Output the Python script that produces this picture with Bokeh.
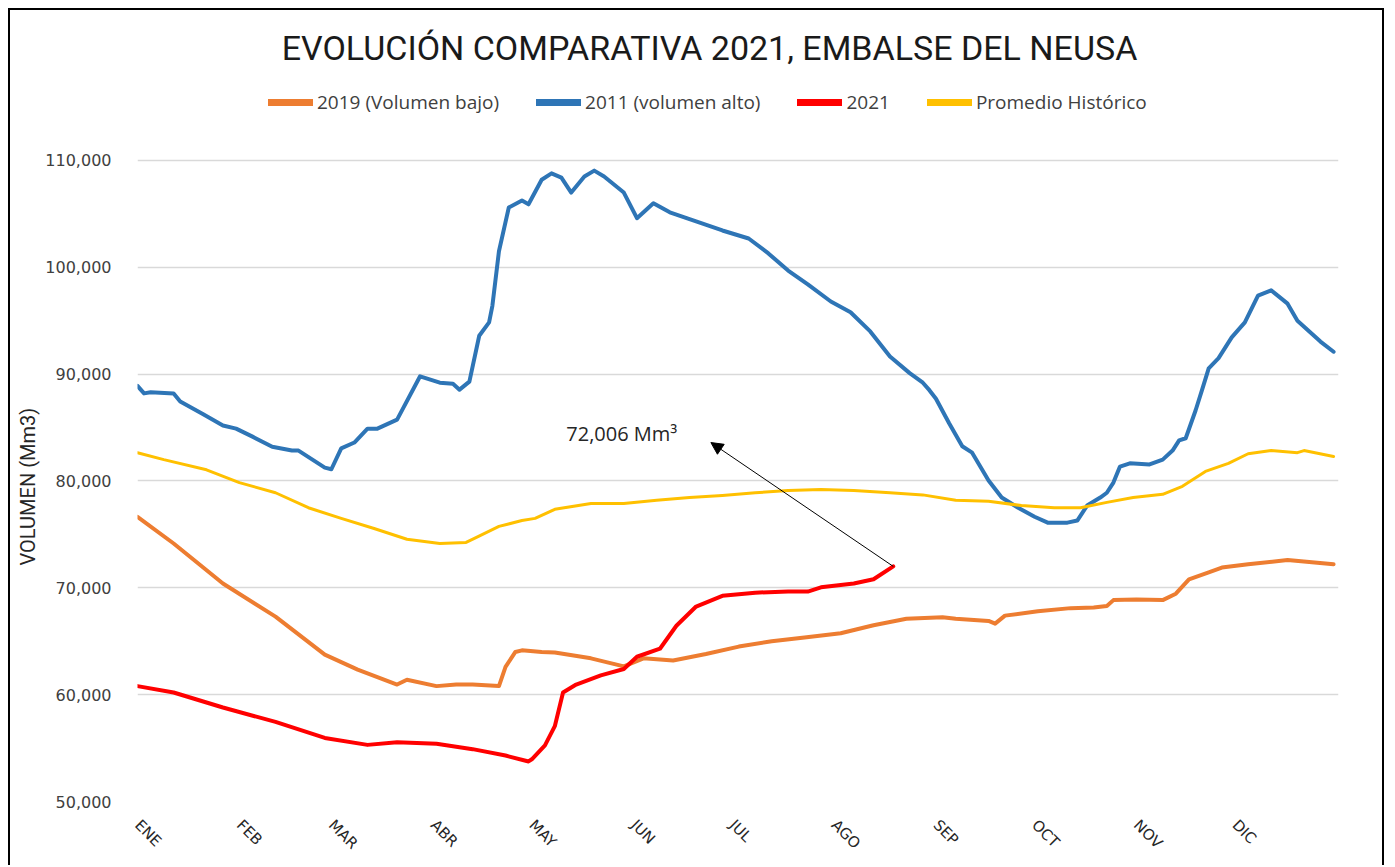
import math
from bokeh.plotting import figure
from bokeh.models import (Legend, LegendItem, Label, Arrow, NormalHead, Title,
                          FixedTicker, NumeralTickFormatter, Range1d)
from bokeh.embed import file_html
from bokeh.resources import INLINE

# ---------------- data (day of year, volume in Mm3) ----------------
month_labels = ["ENE", "FEB", "MAR", "ABR", "MAY", "JUN", "JUL", "AGO", "SEP", "OCT", "NOV", "DIC"]
month_start_days = [1, 32, 60, 91, 121, 152, 182, 213, 244, 274, 305, 335]

days_2011 = [1, 3, 5, 12, 14, 21, 27, 31, 36, 42, 48, 50, 58, 60, 63, 67, 71, 74, 80, 87,
             93, 97, 99, 102, 105, 108, 109, 111, 114, 118, 120, 124, 127, 130, 133, 137,
             140, 143, 149, 153, 158, 163, 171, 179, 187, 193, 199, 205, 212, 218, 224,
             230, 236, 240, 242, 244, 248, 252, 255, 260, 264, 269, 274, 278, 284, 287,
             290, 294, 296, 298, 300, 303, 309, 313, 316, 318, 320, 323, 325, 327, 330,
             334, 338, 342, 346, 348, 351, 354, 361, 365]
vol_2011 = [88900, 88200, 88300, 88200, 87450, 86250, 85200, 84900, 84150, 83200, 82850,
            82850, 81250, 81100, 83050, 83600, 84900, 84900, 85750, 89800, 89200, 89100,
            88550, 89300, 93600, 94850, 96400, 101500, 105600, 106250, 105900, 108200,
            108800, 108400, 107000, 108500, 109050, 108500, 107000, 104600, 106000, 105150,
            104300, 103450, 102700, 101300, 99700, 98400, 96800, 95800, 94000, 91650,
            90100, 89200, 88500, 87700, 85400, 83250, 82650, 80050, 78450, 77500, 76650,
            76100, 76100, 76300, 77700, 78450, 78900, 79850, 81350, 81650, 81550, 82000,
            82850, 83800, 84000, 86600, 88550, 90550, 91500, 93450, 94850, 97350, 97850,
            97350, 96600, 95000, 93050, 92100]

days_hist = [1, 9, 22, 32, 43, 53, 63, 73, 83, 93, 101, 104, 111, 118, 122, 128, 139, 149,
             159, 169, 179, 189, 199, 209, 219, 230, 240, 250, 260, 270, 280, 288, 296,
             304, 313, 319, 326, 333, 339, 346, 354, 356, 365]
vol_hist = [82650, 82000, 81050, 79850, 78900, 77500, 76500, 75550, 74550, 74150, 74250,
            74700, 75750, 76300, 76500, 77350, 77900, 77900, 78200, 78450, 78650, 78900,
            79100, 79200, 79100, 78900, 78700, 78200, 78100, 77700, 77500, 77500, 78000,
            78450, 78750, 79500, 80900, 81650, 82550, 82850, 82650, 82850, 82300]

days_2019 = [1, 12, 27, 43, 58, 68, 80, 83, 92, 98, 103, 111, 113, 116, 118, 124, 128, 139,
             149, 155, 164, 174, 184, 194, 204, 215, 225, 235, 246, 250, 260, 262, 265,
             275, 285, 292, 296, 298, 305, 313, 317, 321, 327, 331, 339, 351, 365]
vol_2019 = [76650, 74150, 70400, 67300, 63750, 62350, 60950, 61400, 60800, 60950, 60950,
            60800, 62600, 64000, 64150, 64000, 63950, 63400, 62650, 63400, 63200, 63800,
            64500, 65000, 65350, 65750, 66500, 67100, 67250, 67100, 66900, 66650, 67400,
            67800, 68100, 68150, 68300, 68850, 68900, 68850, 69450, 70800, 71450, 71900,
            72200, 72600, 72200]

days_2021 = [1, 12, 27, 43, 58, 71, 80, 92, 103, 113, 120, 121, 125, 128, 130.5, 134.5,
             142, 149, 153, 160, 165, 171, 179, 189, 199, 205, 209, 219, 225, 231]
vol_2021 = [60800, 60200, 58800, 57450, 55950, 55300, 55550, 55400, 54900, 54300, 53750,
            53950, 55250, 57050, 60200, 60950, 61800, 62400, 63550, 64300, 66450, 68250,
            69250, 69550, 69650, 69650, 70050, 70400, 70800, 72006]

series_names = ["2019 (Volumen bajo)", "2011 (volumen alto)", "2021", "Promedio Histórico"]
series_colors = ["#ED7D31", "#2E75B6", "#FF0000", "#FFC000"]

annot_text = "72,006 Mm³"
annot_text_pos = (131.5, 84450)
annot_arrow_head = (175.5, 83600)

y_ticks = [50000, 60000, 70000, 80000, 90000, 100000, 110000]

# ---------------- figure ----------------
# frame extends above the top gridline so that title and legend sit inside it
W, H = 1376, 857
MB_L, MB_R, MB_T, MB_B = 123, 48, 4, 66
frame_w = W - MB_L - MB_R
frame_h = H - MB_T - MB_B
p = figure(width=W, height=H, output_backend="svg", toolbar_location=None,
           x_range=Range1d(1, 366.5), y_range=Range1d(50000, 123666),
           min_border_left=MB_L, min_border_right=MB_R, min_border_top=MB_T,
           min_border_bottom=MB_B, background_fill_color="white",
           border_fill_color="white")
p.styles = {"margin": "8px 0 0 8px", "border-top": "2px solid black",
            "border-left": "2px solid black", "border-right": "2px solid black"}
p.outline_line_color = None
p.xgrid.grid_line_color = None
p.ygrid.grid_line_color = "#d9d9d9"
p.ygrid.grid_line_width = 1.5
p.ygrid.ticker = FixedTicker(ticks=y_ticks)

p.yaxis.ticker = FixedTicker(ticks=y_ticks)
p.yaxis.formatter = NumeralTickFormatter(format="0,0")
p.yaxis.axis_line_color = None
p.yaxis.major_tick_line_color = None
p.yaxis.minor_tick_line_color = None
p.yaxis.major_label_text_font = "DejaVu Sans"
p.yaxis.major_label_text_font_size = "16px"
p.yaxis.major_label_text_color = "#404040"
p.yaxis.major_label_standoff = 20
p.add_layout(Title(text="VOLUMEN (Mm3)", align="left", offset=236,
                   text_font="Roboto", text_font_size="20px", text_font_style="normal",
                   text_color="#262626", standoff=6), "left")

p.xaxis.ticker = FixedTicker(ticks=month_start_days)
p.xaxis.major_label_overrides = {d: m for d, m in zip(month_start_days, month_labels)}
p.xaxis.major_label_orientation = -math.pi / 4
p.xaxis.axis_line_color = None
p.xaxis.major_tick_line_color = None
p.xaxis.minor_tick_line_color = None
p.xaxis.major_label_text_font = "DejaVu Sans"
p.xaxis.major_label_text_font_size = "15px"
p.xaxis.major_label_text_color = "#262626"
p.xaxis.major_label_standoff = 15

r19 = p.line(days_2019, vol_2019, line_color=series_colors[0], line_width=4, line_join="round", line_cap="round")
r11 = p.line(days_2011, vol_2011, line_color=series_colors[1], line_width=4, line_join="round", line_cap="round")
r21 = p.line(days_2021, vol_2021, line_color=series_colors[2], line_width=4, line_join="round", line_cap="round")
rh = p.line(days_hist, vol_hist, line_color=series_colors[3], line_width=3, line_join="round", line_cap="round")

# legend proxies (a single undefined point, so nothing is drawn in the plot area)
nan = float("nan")
proxies = [p.line(x=[nan], y=[nan], line_color=c, line_width=7, line_cap="round")
           for c in series_colors]

# annotation
p.add_layout(Arrow(end=NormalHead(size=12, fill_color="black", line_color="black"),
                   x_start=days_2021[-1], y_start=vol_2021[-1],
                   x_end=annot_arrow_head[0], y_end=annot_arrow_head[1],
                   line_color="black", line_width=1))
p.add_layout(Label(x=annot_text_pos[0], y=annot_text_pos[1], text=annot_text,
                   text_font="Open Sans", text_font_size="20px", text_color="#262626",
                   text_baseline="middle", text_align="left"))

# title (inside the extended frame)
p.add_layout(Label(x=572, y=frame_h - 33, x_units="screen", y_units="screen",
                   text="EVOLUCIÓN COMPARATIVA 2021, EMBALSE DEL NEUSA",
                   text_font="Roboto", text_font_size="34px", text_color="#1a1a1a",
                   text_align="center", text_baseline="middle"))

legend = Legend(items=[LegendItem(label=n, renderers=[r]) for n, r in zip(series_names, proxies)],
                orientation="horizontal", location=(131, frame_h - 101),
                label_text_font="Open Sans", label_text_font_size="19px",
                label_text_color="#404040", glyph_width=45, glyph_height=22,
                label_standoff=4, spacing=37, padding=0, margin=0,
                border_line_color=None, background_fill_alpha=0)
p.add_layout(legend, "center")

open("out.html", "w").write(file_html(p, INLINE))
